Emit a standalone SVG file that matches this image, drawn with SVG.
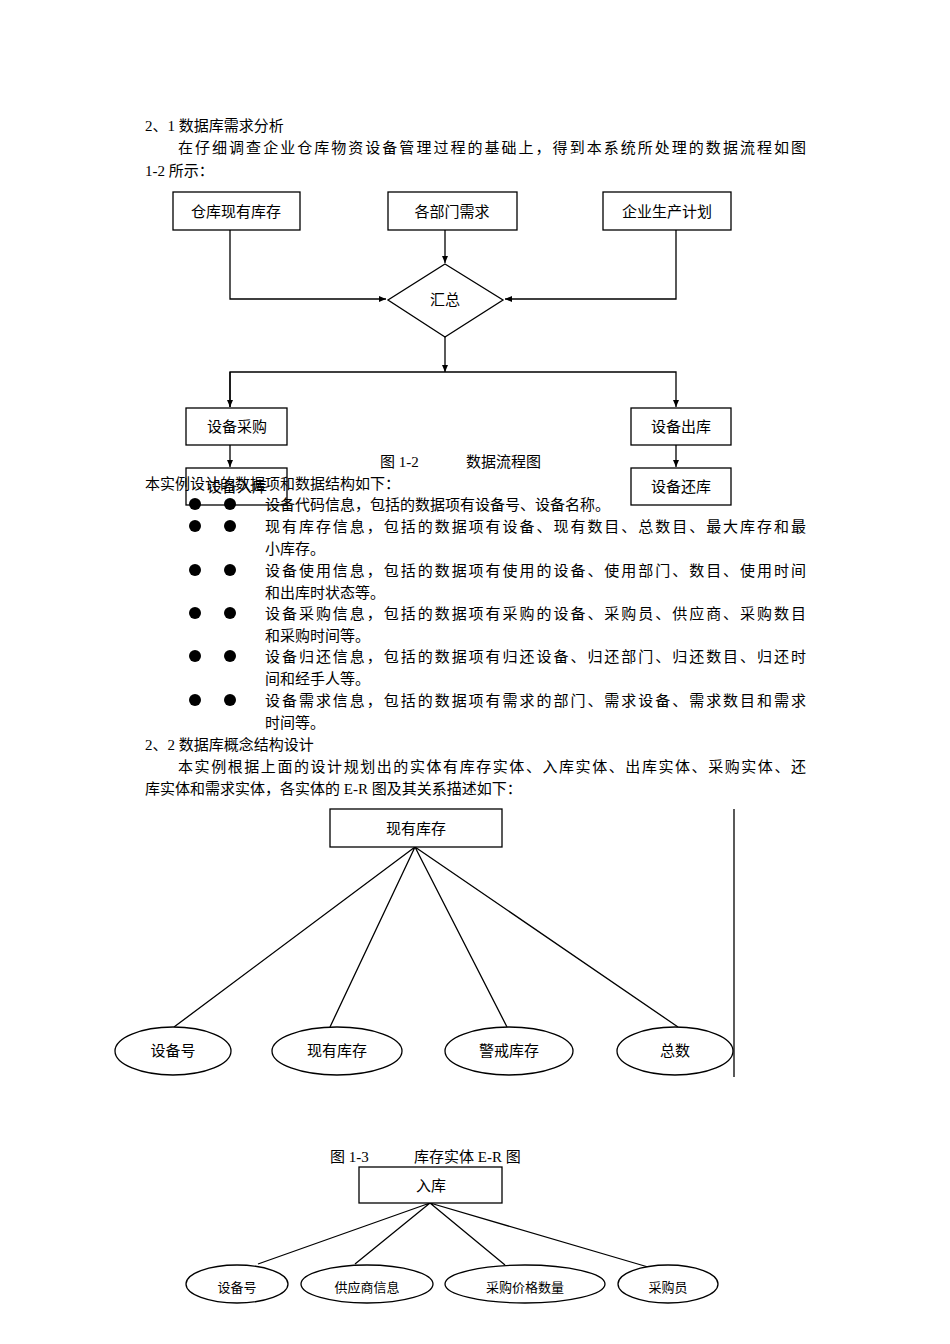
<svg xmlns="http://www.w3.org/2000/svg" width="950" height="1344" viewBox="0 0 950 1344">
<style>
text{font-family:"Liberation Serif","Noto Sans CJK SC",serif;font-size:15px;fill:#000}
.c{text-anchor:middle}
.s{font-size:13px}
rect,ellipse,polygon{fill:#fff;stroke:#000;stroke-width:1.3}
.l{fill:none;stroke:#000;stroke-width:1.3}
</style>
<defs><marker id="a" markerWidth="8" markerHeight="8" refX="7" refY="4" orient="auto" markerUnits="userSpaceOnUse"><path d="M0,1L7,4L0,7z" fill="#000"/></marker></defs>
<rect width="950" height="1344" fill="#fff" style="stroke:none"/>
<text x="145" y="131">2、1 数据库需求分析</text>
<text x="178" y="153" textLength="628" lengthAdjust="spacing">在仔细调查企业仓库物资设备管理过程的基础上，得到本系统所处理的数据流程如图</text>
<text x="145" y="176">1-2 所示：</text>
<g id="connectors">
<path class="l" d="M230,230V299H386" marker-end="url(#a)"/>
<path class="l" d="M676,230V299H505" marker-end="url(#a)"/>
<path class="l" d="M445,230V263" marker-end="url(#a)"/>
<path class="l" d="M445,337V372" marker-end="url(#a)"/>
<path class="l" d="M230,407V372H676V407" marker-end="url(#a)"/>
<path class="l" d="M230,372V407" marker-end="url(#a)"/>
<path class="l" d="M230,445V467" marker-end="url(#a)"/>
<path class="l" d="M676,445V467" marker-end="url(#a)"/>
<path class="l" d="M415,847L174,1027M415,847L330,1027M415,847L507,1027M415,847L678,1027"/>
<path class="l" d="M734,809V1077"/>
<path class="l" d="M430,1203L258,1264M430,1203L355,1264M430,1203L505,1265M430,1203L648,1267"/>
</g>
<g id="n1"><rect x="173" y="192" width="127" height="38"/><text class="c" x="236" y="217">仓库现有库存</text></g>
<g id="n2"><rect x="388" y="192" width="129" height="38"/><text class="c" x="452" y="217">各部门需求</text></g>
<g id="n3"><rect x="603" y="192" width="128" height="38"/><text class="c" x="667" y="217">企业生产计划</text></g>
<g id="n4"><polygon points="445,264 503,300 445,337 388,300"/><text class="c" x="445" y="305">汇总</text></g>
<g id="n5"><rect x="186" y="408" width="101" height="37"/><text class="c" x="237" y="432">设备采购</text></g>
<g id="n6"><rect x="631" y="408" width="100" height="37"/><text class="c" x="681" y="432">设备出库</text></g>
<g id="n7"><rect x="186" y="468" width="101" height="37"/><text class="c" x="237" y="492">设备入库</text></g>
<g id="n8"><rect x="631" y="468" width="100" height="37"/><text class="c" x="681" y="492">设备还库</text></g>
<text x="380" y="467">图 1-2</text><text x="466" y="467">数据流程图</text>
<text x="145" y="489">本实例设计的数据项和数据结构如下：</text>
<g id="bullets">
<circle cx="195" cy="504" r="6"/><circle cx="230" cy="504" r="6"/>
<circle cx="195" cy="526" r="6"/><circle cx="230" cy="526" r="6"/>
<circle cx="195" cy="570" r="6"/><circle cx="230" cy="570" r="6"/>
<circle cx="195" cy="613" r="6"/><circle cx="230" cy="613" r="6"/>
<circle cx="195" cy="656" r="6"/><circle cx="230" cy="656" r="6"/>
<circle cx="195" cy="700" r="6"/><circle cx="230" cy="700" r="6"/>
</g>
<text x="265" y="510">设备代码信息，包括的数据项有设备号、设备名称。</text>
<text x="265" y="532" textLength="541" lengthAdjust="spacing">现有库存信息，包括的数据项有设备、现有数目、总数目、最大库存和最</text>
<text x="265" y="554">小库存。</text>
<text x="265" y="576" textLength="541" lengthAdjust="spacing">设备使用信息，包括的数据项有使用的设备、使用部门、数目、使用时间</text>
<text x="265" y="598">和出库时状态等。</text>
<text x="265" y="619" textLength="541" lengthAdjust="spacing">设备采购信息，包括的数据项有采购的设备、采购员、供应商、采购数目</text>
<text x="265" y="641">和采购时间等。</text>
<text x="265" y="662" textLength="541" lengthAdjust="spacing">设备归还信息，包括的数据项有归还设备、归还部门、归还数目、归还时</text>
<text x="265" y="684">间和经手人等。</text>
<text x="265" y="706" textLength="541" lengthAdjust="spacing">设备需求信息，包括的数据项有需求的部门、需求设备、需求数目和需求</text>
<text x="265" y="728">时间等。</text>
<text x="145" y="750">2、2 数据库概念结构设计</text>
<text x="178" y="772" textLength="628" lengthAdjust="spacing">本实例根据上面的设计规划出的实体有库存实体、入库实体、出库实体、采购实体、还</text>
<text x="145" y="794">库实体和需求实体，各实体的 E-R 图及其关系描述如下：</text>
<g id="e1"><rect x="330" y="809" width="172" height="38"/><text class="c" x="416" y="834">现有库存</text></g>
<g id="e1a"><ellipse cx="173" cy="1051" rx="58" ry="24"/><text class="c" x="173" y="1056">设备号</text></g>
<g id="e1b"><ellipse cx="337" cy="1051" rx="65" ry="24"/><text class="c" x="337" y="1056">现有库存</text></g>
<g id="e1c"><ellipse cx="509" cy="1051" rx="64" ry="24"/><text class="c" x="509" y="1056">警戒库存</text></g>
<g id="e1d"><ellipse cx="675" cy="1051" rx="58" ry="24"/><text class="c" x="675" y="1056">总数</text></g>
<text x="330" y="1162">图 1-3</text><text x="414" y="1162">库存实体 E-R 图</text>
<g id="e2"><rect x="359" y="1167" width="143" height="36"/><text class="c" x="431" y="1191">入库</text></g>
<g id="e2a"><ellipse cx="237" cy="1284" rx="51" ry="19"/><text class="c s" x="237" y="1292">设备号</text></g>
<g id="e2b"><ellipse cx="367" cy="1284" rx="66" ry="19"/><text class="c s" x="367" y="1292">供应商信息</text></g>
<g id="e2c"><ellipse cx="525" cy="1284" rx="80" ry="19"/><text class="c s" x="525" y="1292">采购价格数量</text></g>
<g id="e2d"><ellipse cx="668" cy="1284" rx="50" ry="19"/><text class="c s" x="668" y="1292">采购员</text></g>
</svg>
